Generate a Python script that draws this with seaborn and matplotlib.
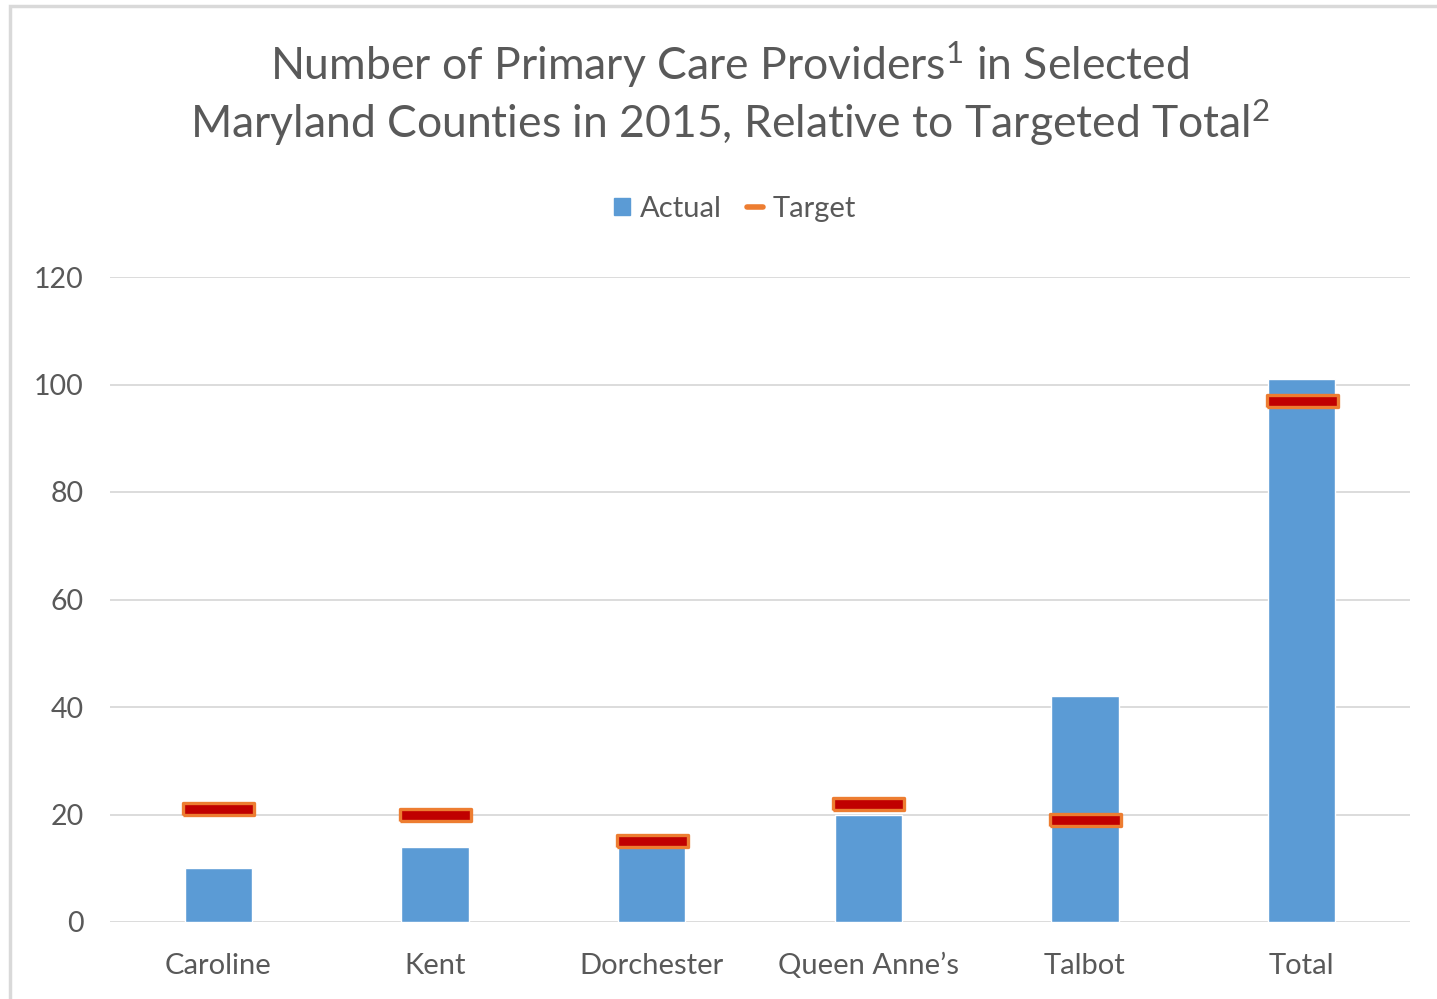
import matplotlib
matplotlib.use("Agg")
import matplotlib.pyplot as plt
import seaborn as sns
import pandas as pd
from matplotlib.patches import Patch, Rectangle
from matplotlib.lines import Line2D

categories = ["Caroline", "Kent", "Dorchester", "Queen Anne\u2019s", "Talbot", "Total"]
actual = [10, 14, 15, 20, 42, 101]
target = [21, 20, 15, 22, 19, 97]
yticks = [0, 20, 40, 60, 80, 100, 120]

BLUE = "#5B9BD5"
RED = "#C00000"
ORANGE = "#ED7D31"
TEXT = "#595959"
GRID = "#D9D9D9"

sns.set_theme(style="white")
plt.rcParams["font.family"] = ["Lato", "DejaVu Sans"]
plt.rcParams["mathtext.fontset"] = "custom"
plt.rcParams["mathtext.rm"] = "Lato"
plt.rcParams["mathtext.it"] = "Lato"
plt.rcParams["mathtext.bf"] = "Lato"

df = pd.DataFrame({"category": categories, "actual": actual, "target": target})

fig = plt.figure(figsize=(14.37, 9.99), dpi=100)
ax = fig.add_axes([110/1437, 1-922/999, 1300/1437, (922-277)/999])

sns.barplot(data=df, x="category", y="actual", color=BLUE, width=0.31,
            saturation=1, ax=ax, zorder=2)

rect_marker = [(-1, -0.17), (1, -0.17), (1, 0.17), (-1, 0.17), (-1, -0.17)]
sns.scatterplot(data=df, x="category", y="target", marker=rect_marker,
                s=71**2 * 0.5184, color=RED, edgecolor=ORANGE, linewidth=2.4,
                ax=ax, zorder=3, legend=False)

ax.set_xlim(-0.5, len(categories) - 0.5)
ax.set_ylim(0, 120)
ax.set_yticks(yticks)
ax.set_yticklabels([str(v) for v in yticks])
ax.yaxis.grid(True, color=GRID, linewidth=1.3, zorder=0)
ax.set_axisbelow(True)
for s in ax.spines.values():
    s.set_visible(False)
ax.tick_params(axis="y", length=0, pad=19, labelsize=20.5, labelcolor=TEXT)
ax.tick_params(axis="x", length=0, pad=22, labelsize=21, labelcolor=TEXT)
ax.set_xlabel("")
ax.set_ylabel("")

fig.text(730/1437, 1-65/999, r"Number of Primary Care Providers$^{1}$ in Selected",
         ha="center", va="center", fontsize=32, color=TEXT)
fig.text(730/1437, 1-123/999, r"Maryland Counties in 2015, Relative to Targeted Total$^{2}$",
         ha="center", va="center", fontsize=32, color=TEXT)

handles = [Patch(facecolor=BLUE, edgecolor=BLUE, label="Actual"),
           Line2D([0], [0], color=ORANGE, linewidth=4, label="Target")]
fig.legend(handles=handles, loc="center", bbox_to_anchor=(735/1437, 1-209/999),
           ncol=2, frameon=False, fontsize=21, labelcolor=TEXT,
           handlelength=0.55, handleheight=0.55, handletextpad=0.35, columnspacing=0.85)

fig.patches.append(Rectangle((10/1437, -0.05), 1.2, 1.05 - 6/999,
                             transform=fig.transFigure, fill=False,
                             edgecolor=GRID, linewidth=2.5, zorder=10))

fig.savefig("out.png", dpi=100)
